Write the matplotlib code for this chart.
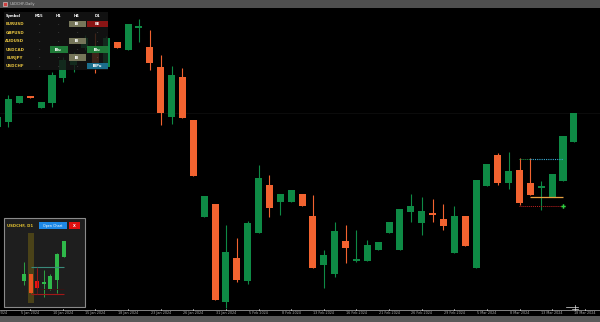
import numpy as np
import pandas as pd
import matplotlib
matplotlib.use("Agg")
import matplotlib.pyplot as plt
import matplotlib.transforms as mtransforms
from matplotlib.patches import Rectangle

# daily candles, the first one is cut off by the left edge
opens = [0.8696, 0.8706, 0.8744, 0.8758, 0.8734, 0.8744, 0.8794, 0.8820, 0.8854, 0.8846,
         0.8816, 0.8866, 0.8850, 0.8895, 0.8856, 0.8816, 0.8716, 0.8796, 0.8710, 0.8516,
         0.8542, 0.8346, 0.8434, 0.8388, 0.8484, 0.8580, 0.8546, 0.8546, 0.8562, 0.8518,
         0.8420, 0.8402, 0.8468, 0.8429, 0.8428, 0.8450, 0.8484, 0.8450, 0.8526, 0.8504,
         0.8523, 0.8512, 0.8444, 0.8518, 0.8414, 0.8578, 0.8640, 0.8584, 0.8610, 0.8584,
         0.8575, 0.8556, 0.8588, 0.8666]
closes = [0.8716, 0.8752, 0.8758, 0.8755, 0.8746, 0.8800, 0.8830, 0.8840, 0.8874, 0.8824,
          0.8874, 0.8854, 0.8902, 0.8897, 0.8824, 0.8724, 0.8800, 0.8714, 0.8598, 0.8558,
          0.8350, 0.8446, 0.8390, 0.8504, 0.8594, 0.8534, 0.8562, 0.8570, 0.8538, 0.8414,
          0.8440, 0.8488, 0.8454, 0.8431, 0.8460, 0.8466, 0.8506, 0.8532, 0.8538, 0.8528,
          0.8521, 0.8498, 0.8518, 0.8458, 0.8590, 0.8622, 0.8584, 0.8608, 0.8544, 0.8560,
          0.8577, 0.8602, 0.8678, 0.8724]
highs = [0.8716, 0.8760, 0.8758, 0.8759, 0.8746, 0.8806, 0.8836, 0.8846, 0.8880, 0.8884,
         0.8878, 0.8866, 0.8902, 0.8912, 0.8890, 0.8840, 0.8818, 0.8814, 0.8710, 0.8558,
         0.8542, 0.8500, 0.8474, 0.8508, 0.8620, 0.8600, 0.8562, 0.8570, 0.8562, 0.8560,
         0.8450, 0.8506, 0.8500, 0.8490, 0.8470, 0.8466, 0.8506, 0.8532, 0.8562, 0.8556,
         0.8552, 0.8542, 0.8538, 0.8518, 0.8590, 0.8622, 0.8644, 0.8646, 0.8634, 0.8634,
         0.8588, 0.8602, 0.8678, 0.8724]
lows = [0.8696, 0.8696, 0.8744, 0.8754, 0.8734, 0.8736, 0.8786, 0.8806, 0.8850, 0.8804,
        0.8814, 0.8854, 0.8850, 0.8866, 0.8810, 0.8700, 0.8702, 0.8714, 0.8598, 0.8516,
        0.8350, 0.8334, 0.8386, 0.8382, 0.8484, 0.8516, 0.8520, 0.8546, 0.8538, 0.8414,
        0.8374, 0.8396, 0.8424, 0.8426, 0.8428, 0.8450, 0.8484, 0.8450, 0.8506, 0.8480,
        0.8506, 0.8490, 0.8444, 0.8458, 0.8414, 0.8578, 0.8580, 0.8572, 0.8540, 0.8560,
        0.8530, 0.8556, 0.8588, 0.8666]
dates = pd.bdate_range(end="2024-03-18", periods=55)  # one extra day for the last label

# levels drawn on the last bars
level_high = 0.8633
level_mid = 0.8557
level_low = 0.8539

# scanner table
symbols = ["EURUSD", "GBPUSD", "AUDUSD", "USDCAD", "EURJPY", "USDCHF"]
timeframes = ["M15", "H1", "H4", "D1"]
signals = [["-", "-", "IB", "BE"],
           ["-", "-", "-", "-"],
           ["-", "-", "IB", "-"],
           ["-", "IBu", "-", "IBu"],
           ["-", "-", "IB", "-"],
           ["-", "-", "-", "IBPu"]]

# mini chart in the popup
mini_opens = [0.8388, 0.8402, 0.8388, 0.8383, 0.8372, 0.8390, 0.8436]
mini_closes = [0.8402, 0.8364, 0.8374, 0.8385, 0.8398, 0.8442, 0.8468]
mini_highs = [0.8426, 0.8402, 0.8414, 0.8410, 0.8402, 0.8444, 0.8468]
mini_lows = [0.8380, 0.8364, 0.8374, 0.8356, 0.8370, 0.8364, 0.8436]
mini_colors = ["#2fb84a", "#e8541e", "#ee1111", "#2fb84a", "#2fb84a", "#2fb84a", "#2fb84a"]

GREEN = "#0e8a45"
ORANGE = "#f26330"

fig = plt.figure(figsize=(6, 3.22), dpi=100, facecolor="black")

# main chart
ax = fig.add_axes([0, 12 / 322, 1, 302 / 322], zorder=1)
ax.set_facecolor("black")
idx = np.arange(-1, len(opens) - 1)
o = np.array(opens)
c = np.array(closes)
cols = [GREEN if cc >= oo else ORANGE for oo, cc in zip(o, c)]
ax.vlines(idx, lows, highs, colors=cols, lw=0.8)
ax.bar(idx, np.maximum(np.abs(c - o), 0.0003), bottom=np.minimum(o, c), width=0.65,
       color=cols, linewidth=0)
ax.axhline(0.8724, color="#0e0e0e", lw=0.6, zorder=0)

ax.hlines(level_high, 46.96, 47.98, colors="#1f9a4a", lw=0.7, linestyles=(0, (1, 1)))
ax.hlines(level_high - 0.0001, 47.98, 51.0, colors="#3ab0d8", lw=0.8, linestyles=(0, (1, 1)))
ax.hlines(level_mid, 47.98, 51.0, colors="#e8a040", lw=0.9)
ax.hlines(level_low, 46.96, 51.0, colors="#c02020", lw=0.7, linestyles=(0, (1, 1)))
ax.plot([51.0], [level_low], marker="P", color="#30d040", ms=3.2, mew=0)

ax.set_xlim(-0.78, 54.4)
ax.set_ylim(0.8330, 0.8934)
ax.axis("off")

# overlay in pixel units for the terminal ui
ui = fig.add_axes([0, 0, 1, 1], zorder=2)
ui.set_xlim(0, 600)
ui.set_ylim(322, 0)
ui.patch.set_alpha(0)
ui.axis("off")

ui.add_patch(Rectangle((0, 0), 600, 7.5, fc="#4f4f4f", ec="none"))
ui.add_patch(Rectangle((3, 1.5), 4, 4.5, fc="#d04040", ec="#dddddd", lw=0.4))
ui.text(10, 4, "USDCHF,Daily", color="#c8c8c8", fontsize=2.6, va="center")
ui.add_patch(Rectangle((0, 316), 600, 6, fc="#5a5a5a", ec="none"))
ui.plot([0, 600], [310.3, 310.3], color="#9a9a9a", lw=0.6)

# date labels every third bar
blend = mtransforms.blended_transform_factory(ax.transData, ui.transData)
for k in range(-1, len(dates) - 1, 3):
    ui.text(k, 313.2, f"{dates[k + 1].day} {dates[k + 1]:%b %Y}", transform=blend,
            color="#b0b0b0", fontsize=2.4, ha="center", va="center")
    ui.plot([k, k], [308.8, 310.3], transform=blend, color="#dddddd", lw=0.5)

# scroll marker bottom right
ui.plot([566, 578], [306.5, 306.5], color="#e0e0e0", lw=0.5)
ui.plot([572, 578], [308.5, 308.5], color="#e0e0e0", lw=0.5)
ui.plot([575, 575], [305, 310], color="#e0e0e0", lw=0.5)

# scanner table
ui.add_patch(Rectangle((4, 12), 104, 58, fc="#151515", ec="none", alpha=0.82))
col_x = [39, 58, 77, 97]
cell_x = [(31, 47), (50, 68), (69, 86), (87, 108)]
row_y = [24, 32.5, 41, 49.5, 57.5, 66]
cell_bg = {"IB": "#76765a", "BE": "#8a1414", "IBu": "#1f7a38", "IBPu": "#1b6e8c"}
ui.text(13, 15.5, "Symbol", color="white", fontsize=2.6, fontweight="bold", ha="center", va="center")
for tf, x in zip(timeframes, col_x):
    ui.text(x, 15.5, tf, color="white", fontsize=2.6, fontweight="bold", ha="center", va="center")
for sym, y, row in zip(symbols, row_y, signals):
    ui.text(15, y, sym, color="#e8c440", fontsize=2.9, fontweight="bold", ha="center", va="center")
    for sig, x, (x0, x1) in zip(row, col_x, cell_x):
        if sig in cell_bg:
            ui.add_patch(Rectangle((x0, y - 3.2), x1 - x0, 6.4, fc=cell_bg[sig], ec="none"))
            ui.text(x, y, sig, color="white", fontsize=2.6, fontweight="bold", ha="center", va="center")
        else:
            ui.text(x, y, sig, color="#9a9a9a", fontsize=2.6, ha="center", va="center")

# popup with the mini chart
ui.add_patch(Rectangle((4, 218), 81, 89, fc="#1e1e1e", ec="#8a8a8a", lw=0.8))
ui.text(7, 225.5, "USDCHF, D1", color="#e0c030", fontsize=2.8, fontweight="bold", va="center")
ui.add_patch(Rectangle((39, 222), 28, 7, fc="#1e88e5", ec="none"))
ui.text(53, 225.5, "Open Chart", color="white", fontsize=2.4, ha="center", va="center")
ui.add_patch(Rectangle((69, 222), 11, 7, fc="#e01010", ec="none"))
ui.text(74.5, 225.5, "X", color="white", fontsize=2.6, fontweight="bold", ha="center", va="center")

mini = fig.add_axes([8 / 600, (322 - 303) / 322, 64 / 600, 70 / 322], zorder=3)
mini.set_facecolor("#161616")
mi = np.arange(len(mini_opens))
mo = np.array(mini_opens)
mc = np.array(mini_closes)
mini.axvspan(0.55, 1.45, color="#4a4218", lw=0)
mini.vlines(mi, mini_lows, mini_highs, colors=mini_colors, lw=0.6)
mini.bar(mi, np.maximum(np.abs(mc - mo), 0.0003), bottom=np.minimum(mo, mc), width=0.6,
         color=mini_colors, linewidth=0)
mini.hlines(0.8416, 1.0, 6.0, colors="#3a8a7a", lw=0.8)
mini.hlines(0.8362, 1.0, 6.0, colors="#a01818", lw=0.8)
mini.hlines(0.8372, 2.4, 6.0, colors="#3a1414", lw=0.6)
mini.vlines(2.0, 0.8362, 0.8416, colors="#7a1818", lw=0.5)
mini.set_xlim(-2.42, 7.27)
mini.set_ylim(0.8344, 0.8484)
mini.axis("off")

fig.savefig("out.png", dpi=100, facecolor="black")
